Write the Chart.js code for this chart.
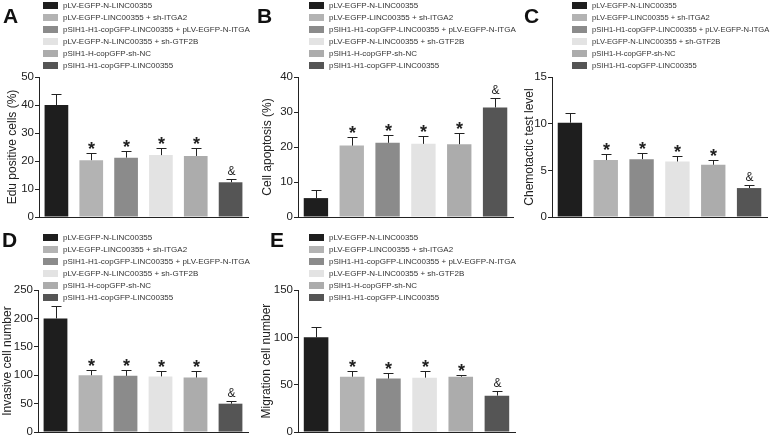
<!DOCTYPE html>
<html>
<head>
<meta charset="utf-8">
<script src="https://cdn.jsdelivr.net/npm/chart.js@4.4.0/dist/chart.umd.min.js"></script>
<style>
body { margin: 0; background: #fff; font-family: Arial, "Liberation Sans", sans-serif; }
#fig { position: relative; width: 772px; height: 440px; overflow: hidden; }
#fig canvas { position: absolute; }
.letra { position: absolute; font-weight: bold; font-size: 21px; color: #111; line-height: 1; }
.legenda { position: absolute; font-size: 8px; color: #333; line-height: 11.9px; white-space: nowrap; }
.legenda i { display: inline-block; width: 15px; height: 7px; margin-right: 5px; vertical-align: -1px; }
</style>
</head>
<body>
<div id="fig"></div>
<script>
// grupos e cores (iguais em todos os paineis)
const grupos = [
    'pLV-EGFP-N-LINC00355',
    'pLV-EGFP-LINC00355 + sh-ITGA2',
    'pSIH1-H1-copGFP-LINC00355 + pLV-EGFP-N-ITGA',
    'pLV-EGFP-N-LINC00355 + sh-GTF2B',
    'pSIH1-H-copGFP-sh-NC',
    'pSIH1-H1-copGFP-LINC00355'
];
const cores = ['#1e1e1e', '#b3b3b3', '#8b8b8b', '#e3e3e3', '#acacac', '#555555'];
const marcas = ['', '*', '*', '*', '*', '&'];

// A - Edu
const eduValores = [40.0, 20.3, 21.2, 22.1, 21.8, 12.4];
const eduErros = [4.1, 2.5, 2.2, 2.4, 3.0, 1.3];
// B - apoptose
const apoptoseValores = [5.4, 20.4, 21.2, 20.9, 20.8, 31.3];
const apoptoseErros = [2.4, 2.4, 2.3, 2.3, 3.2, 2.8];
// C - quimiotaxia
const quimioValores = [10.1, 6.1, 6.2, 5.95, 5.6, 3.1];
const quimioErros = [1.05, 0.65, 0.65, 0.55, 0.5, 0.3];
// D - invasao
const invasaoValores = [200, 100, 99, 98, 96, 50];
const invasaoErros = [21, 10, 11, 10, 12, 5];
// E - migracao
const migracaoValores = [100, 58.5, 56.5, 57.5, 58.5, 38.5];
const migracaoErros = [10.5, 6.5, 6, 6.5, 2, 4.5];

// eixos y: [max, passo]
const eduEixo = [50, 10];
const apoptoseEixo = [40, 10];
const quimioEixo = [15, 5];
const invasaoEixo = [250, 50];
const migracaoEixo = [150, 50];

const barrasErro = {
    id: 'barrasErro',
    afterDatasetsDraw(chart, args, opts) {
        const ctx = chart.ctx;
        const y = chart.scales.y;
        const meta = chart.getDatasetMeta(0);
        const valores = chart.data.datasets[0].data;
        ctx.save();
        meta.data.forEach((bar, i) => {
            const x = Math.round(bar.x) + 0.5;
            const yTopo = Math.round(y.getPixelForValue(valores[i] + opts.erros[i])) + 0.5;
            ctx.strokeStyle = '#222';
            ctx.lineWidth = 1;
            ctx.beginPath();
            ctx.moveTo(x, bar.y);
            ctx.lineTo(x, yTopo);
            ctx.moveTo(x - 5, yTopo);
            ctx.lineTo(x + 5, yTopo);
            ctx.stroke();

            const m = opts.marcas[i];
            ctx.fillStyle = '#222';
            ctx.textAlign = 'center';
            ctx.textBaseline = 'alphabetic';
            if (m === '*') {
                ctx.font = 'bold 18px Arial';
                ctx.fillText(m, x, yTopo + 1);
            } else if (m === '&') {
                ctx.font = '12px Arial';
                ctx.fillText(m, x, yTopo - 5);
            }
        });
        ctx.restore();
    }
};

const fig = document.getElementById('fig');

function montarPainel(p) {
    const canvas = document.createElement('canvas');
    canvas.width = p.w;
    canvas.height = p.h;
    canvas.style.left = p.left + 'px';
    canvas.style.top = p.top + 'px';
    fig.appendChild(canvas);

    new Chart(canvas.getContext('2d'), {
        type: 'bar',
        data: {
            labels: grupos,
            datasets: [{
                data: p.valores,
                backgroundColor: cores,
                borderWidth: 0,
                categoryPercentage: 1,
                barPercentage: 0.68
            }]
        },
        options: {
            responsive: false,
            animation: false,
            layout: { padding: { top: p.padTopo, right: p.padDir, left: 0, bottom: 0 } },
            plugins: {
                legend: { display: false },
                tooltip: { enabled: false },
                barrasErro: { erros: p.erros, marcas: marcas }
            },
            scales: {
                x: {
                    ticks: { display: false },
                    grid: { display: false },
                    border: { color: '#222', width: 1 },
                    afterFit: s => { s.height = p.altX; }
                },
                y: {
                    min: 0,
                    max: p.eixo[0],
                    ticks: { stepSize: p.eixo[1], color: '#222', font: { family: 'Arial', size: 11.5 }, padding: 1 },
                    grid: { drawOnChartArea: false, tickLength: 4, color: '#222' },
                    border: { color: '#222', width: 1 },
                    title: { display: true, text: p.titulo, color: '#222', font: { family: 'Arial', size: 12 }, padding: { top: p.padTitulo, bottom: 0 } },
                    afterFit: s => { s.width = p.largY; }
                }
            }
        },
        plugins: [barrasErro]
    });

    const letra = document.createElement('div');
    letra.className = 'letra';
    letra.textContent = p.letra;
    letra.style.left = p.letraX + 'px';
    letra.style.top = p.letraY + 'px';
    fig.appendChild(letra);

    const leg = document.createElement('div');
    leg.className = 'legenda';
    leg.style.left = p.legX + 'px';
    leg.style.top = p.legY + 'px';
    if (p.legFonte) leg.style.fontSize = p.legFonte + 'px';
    grupos.forEach((g, i) => {
        const linha = document.createElement('div');
        const cor = document.createElement('i');
        cor.style.background = cores[i];
        linha.appendChild(cor);
        linha.appendChild(document.createTextNode(g));
        leg.appendChild(linha);
    });
    fig.appendChild(leg);
}

montarPainel({ letra: 'A', letraX: 3, letraY: 5, legX: 43, legY: 0,
    left: 0, top: 0, w: 255, h: 225, largY: 39, padTopo: 77, padDir: 7, altX: 8, padTitulo: 5,
    valores: eduValores, erros: eduErros, eixo: eduEixo, titulo: 'Edu positive cells (%)' });

montarPainel({ letra: 'B', letraX: 257, letraY: 5, legX: 309, legY: 0,
    left: 255, top: 0, w: 262, h: 225, largY: 43, padTopo: 77, padDir: 4, altX: 8, padTitulo: 5,
    valores: apoptoseValores, erros: apoptoseErros, eixo: apoptoseEixo, titulo: 'Cell apoptosis (%)' });

montarPainel({ letra: 'C', letraX: 524, letraY: 5, legX: 572, legY: 0, legFonte: 7.6,
    left: 510, top: 0, w: 262, h: 225, largY: 42, padTopo: 77, padDir: 5, altX: 8, padTitulo: 12,
    valores: quimioValores, erros: quimioErros, eixo: quimioEixo, titulo: 'Chemotactic test level' });

montarPainel({ letra: 'D', letraX: 2, letraY: 229, legX: 43, legY: 232,
    left: 0, top: 222, w: 255, h: 218, largY: 38, padTopo: 68, padDir: 7, altX: 7, padTitulo: 0,
    valores: invasaoValores, erros: invasaoErros, eixo: invasaoEixo, titulo: 'Invasive cell number' });

montarPainel({ letra: 'E', letraX: 270, letraY: 229, legX: 309, legY: 232,
    left: 255, top: 222, w: 262, h: 218, largY: 43, padTopo: 68, padDir: 2, altX: 7, padTitulo: 4,
    valores: migracaoValores, erros: migracaoErros, eixo: migracaoEixo, titulo: 'Migration cell number' });
</script>
</body>
</html>
